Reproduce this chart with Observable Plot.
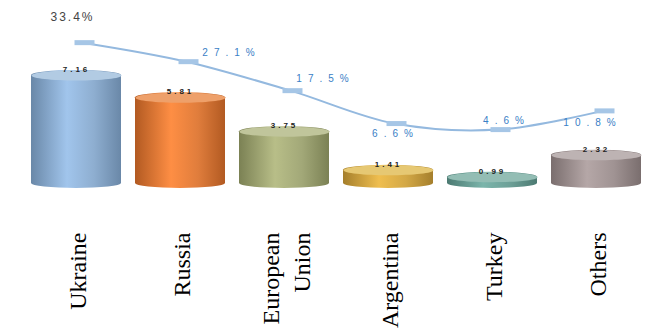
<!DOCTYPE html>
<html>
<head>
<meta charset="utf-8">
<script src="https://cdn.jsdelivr.net/npm/d3@7"></script>
<script src="https://cdn.jsdelivr.net/npm/@observablehq/plot@0.6"></script>
<style>
  html, body { margin: 0; padding: 0; background: #fff; }
  #chart svg { display: block; }
</style>
</head>
<body>
<div id="chart"></div>
<script>
// ---- data ----
const categories = ["Ukraine", "Russia", "European Union", "Argentina", "Turkey", "Others"];
const values = [7.16, 5.81, 3.75, 1.41, 0.99, 2.32];
const shares = [33.4, 27.1, 17.5, 6.6, 4.6, 10.8];
const valueLabels = ["7.16", "5.81", "3.75", "1.41", "0.99", "2.32"];
const shareLabels = ["33.4%", "27.1%", "17.5%", "6.6%", "4.6%", "10.8%"];
const tickLabels = ["Ukraine", "Russia", "European\nUnion", "Argentina", "Turkey", "Others"];

// styling (not data)
const baseColors = ["#8eaed0", "#e07d3c", "#a2a878", "#d3a846", "#6da097", "#a09393"];
const edgeColors = ["#6a88a8", "#b25a22", "#7b8154", "#a57f2c", "#4c7a72", "#7a6e6e"];
const capColors  = ["#b2cbe3", "#eea06a", "#c0c59b", "#e6c873", "#93bdb4", "#bdb3b3"];

// secondary axis mapping: share (%) -> primary y units
const shareToY = p => 2.729 + 0.1831 * p;

const rows = categories.map((c, i) => ({
  cat: c, value: values[i], share: shares[i], shareY: shareToY(shares[i]),
  vlabel: valueLabels[i], slabel: shareLabels[i], tick: tickLabels[i],
  grad: `url(#grad${i})`, cap: capColors[i]
}));

const ellipse = {
  draw(ctx) {
    const rx = 45, ry = 5, k = 0.5523;
    ctx.moveTo(rx, 0);
    ctx.bezierCurveTo(rx, ry * k, rx * k, ry, 0, ry);
    ctx.bezierCurveTo(-rx * k, ry, -rx, ry * k, -rx, 0);
    ctx.bezierCurveTo(-rx, -ry * k, -rx * k, -ry, 0, -ry);
    ctx.bezierCurveTo(rx * k, -ry, rx, -ry * k, rx, 0);
    ctx.closePath();
  }
};
const marker = {
  draw(ctx) {
    const w = 10, h = 2.5;
    ctx.moveTo(-w, -h); ctx.lineTo(w, -h); ctx.lineTo(w, h); ctx.lineTo(-w, h); ctx.closePath();
  }
};

const tickMap = new Map(categories.map((c, i) => [c, tickLabels[i]]));
const pctFont = { ariaDescription: "pct", fontSize: 10, fill: "#3a80c6", fontFamily: "Arial, sans-serif" };

const chart = Plot.plot({
  width: 645,
  height: 330,
  marginTop: 0,
  marginBottom: 142,
  marginLeft: 23,
  marginRight: 0,
  style: { background: "#fff", overflow: "visible" },
  x: { type: "band", domain: categories, range: [23, 649], paddingInner: 0.138, paddingOuter: 0.069, axis: null, label: null },
  y: { domain: [0, 11.4], axis: null },
  color: { type: "identity" },
  marks: [
    Plot.ruleY([0], { stroke: "#e6e6e6", strokeWidth: 3, dy: 2, x1: 20, x2: 640 }),
    Plot.barY(rows, { x: "cat", y: "value", fill: "grad", rx: 45, ry: 5 }),
    Plot.dot(rows, { x: "cat", y: "value", symbol: ellipse, fill: "cap", stroke: null, dy: 5 }),
    Plot.text(rows, { ariaDescription: "vlab", x: "cat", y: "value", text: "vlabel", dy: -1, fontSize: 8, fontWeight: "bold", fill: "#222", fontFamily: "Arial, sans-serif" }),
    Plot.line(rows, { x: "cat", y: "shareY", curve: "catmull-rom", stroke: "#94b9df", strokeWidth: 2, dx: 6 }),
    Plot.dot(rows, { x: "cat", y: "shareY", symbol: marker, fill: "#a6c6e6", stroke: null, dx: 8 }),
    // share labels
    Plot.text(rows.slice(0, 1), { ariaDescription: "pct0", x: "cat", y: "shareY", text: "slabel", dy: -25, dx: -4, fontSize: 12, fill: "#444", fontFamily: "Arial, sans-serif" }),
    Plot.text(rows.slice(1, 2), { x: "cat", y: "shareY", text: "slabel", dy: -9, dx: 51, ...pctFont }),
    Plot.text(rows.slice(2, 3), { x: "cat", y: "shareY", text: "slabel", dy: -12, dx: 41, ...pctFont }),
    Plot.text(rows.slice(3, 4), { x: "cat", y: "shareY", text: "slabel", dy: 10, dx: 7, ...pctFont }),
    Plot.text(rows.slice(4, 5), { x: "cat", y: "shareY", text: "slabel", dy: -9, dx: 14, ...pctFont }),
    Plot.text(rows.slice(5, 6), { x: "cat", y: "shareY", text: "slabel", dy: 12, dx: -4, ...pctFont }),
    Plot.axisX({ tickRotate: -90, tickSize: 0, tickPadding: 44, fontSize: 24, fontFamily: "'Liberation Serif', 'DejaVu Serif', serif", fill: "#000", tickFormat: c => tickMap.get(c), lineHeight: 1.3, label: null })
  ]
});

const svg = d3.select(chart);
svg.selectAll('g[aria-description="pct"] text').style("letter-spacing", "6px");
svg.selectAll('g[aria-description="pct0"] text').style("letter-spacing", "2px");
svg.selectAll('g[aria-description="vlab"] text').style("letter-spacing", "3px");
const defs = svg.insert("defs", ":first-child");
baseColors.forEach((c, i) => {
  const g = defs.append("linearGradient").attr("id", `grad${i}`).attr("x1", "0").attr("x2", "1").attr("y1", "0").attr("y2", "0");
  g.append("stop").attr("offset", "0%").attr("stop-color", edgeColors[i]);
  g.append("stop").attr("offset", "40%").attr("stop-color", d3.color(c).brighter(0.35).formatHex());
  g.append("stop").attr("offset", "70%").attr("stop-color", c);
  g.append("stop").attr("offset", "100%").attr("stop-color", edgeColors[i]);
});

document.getElementById("chart").append(chart);
</script>
</body>
</html>
